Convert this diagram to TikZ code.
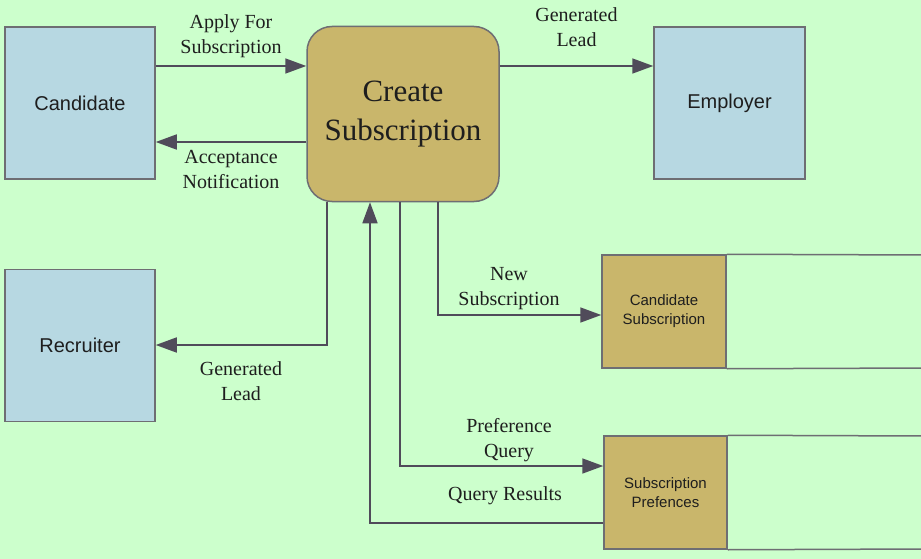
\documentclass[tikz,border=0pt]{standalone}
\usepackage{fontspec}
\setmainfont{Liberation Serif}
\setsansfont{Liberation Sans}
\usepackage{xcolor}
\usetikzlibrary{arrows.meta}
\definecolor{bggreen}{RGB}{204,255,204}
\definecolor{extblue}{RGB}{183,216,226}
\definecolor{proctan}{RGB}{201,182,107}
\definecolor{edgegray}{RGB}{110,110,115}
\definecolor{flowgray}{RGB}{80,75,90}
\definecolor{txt}{RGB}{30,30,30}

\begin{document}
\begin{tikzpicture}[x=1pt, y=-1pt,
ext/.style={draw=edgegray, line width=1.5pt, fill=extblue, minimum width=150pt, minimum height=152pt, font=\sffamily\fontsize{20}{24}\selectfont, text=txt},
proc/.style={draw=edgegray, line width=1.5pt, fill=proctan, rounded corners=25pt, minimum width=192pt, minimum height=175pt, align=center, font=\fontsize{31}{39}\selectfont, text=txt},
store/.style={draw=edgegray, line width=1.5pt, fill=proctan, minimum width=124pt, minimum height=113pt, align=center, font=\sffamily\fontsize{15}{19}\selectfont, text=txt},
arr/.style={-{Triangle[length=21pt, width=15pt]}, draw=flowgray, line width=1.7pt},
lbl/.style={align=center, font=\fontsize{20}{25}\selectfont, text=txt}
]
\fill[bggreen] (0,0) rectangle (921,559);
\useasboundingbox (0,0) rectangle (921,559);

\node[ext] (cand) at (80,103) {Candidate};
\node[ext, minimum width=151pt] (emp) at (729.5,103) {Employer};
\node[ext] (rec) at (80,345.5) {Recruiter};
\node[proc] (cs) at (403,114) {Create\\Subscription};
\node[store] (csub) at (664,311.5) {Candidate\\Subscription};
\node[store, minimum width=123pt] (spref) at (665.5,492.5) {Subscription\\Prefences};

% open ends of the data stores
\draw[edgegray, line width=1.5pt] (csub.north east) -- (925,255) (csub.south east) -- (925,368);
\draw[edgegray, line width=1.5pt] (spref.north east) -- (925,436) (spref.south east) -- (925,549);

\draw[arr] (cand.east |- 0,66) -- node[lbl, above=4pt] {Apply For\\Subscription} (cs.west |- 0,66);
\draw[arr] (cs.west |- 0,142) -- node[lbl, below=4pt] {Acceptance\\Notification} (cand.east |- 0,142);
\draw[arr] (cs.east |- 0,66) -- node[lbl, above=15pt] {Generated\\Lead} (emp.west |- 0,66);
\draw[arr] (cs.south -| 327,0) |- (rec.east |- 0,345);
\draw[arr] (cs.south -| 438,0) |- (csub.west |- 0,315);
\draw[arr] (cs.south -| 400,0) |- (spref.west |- 0,466);
\draw[arr] (spref.west |- 0,523) -| (cs.south -| 370,0);

\node[lbl] (leadrec) at (241,381) {Generated\\Lead};
\node[lbl] (newsub) at (509,289) {New\\Subscription};
\node[lbl] (prefq) at (509,440) {Preference\\Query};
\node[lbl] (qres) at (505,496) {Query Results};
\end{tikzpicture}
\end{document}
